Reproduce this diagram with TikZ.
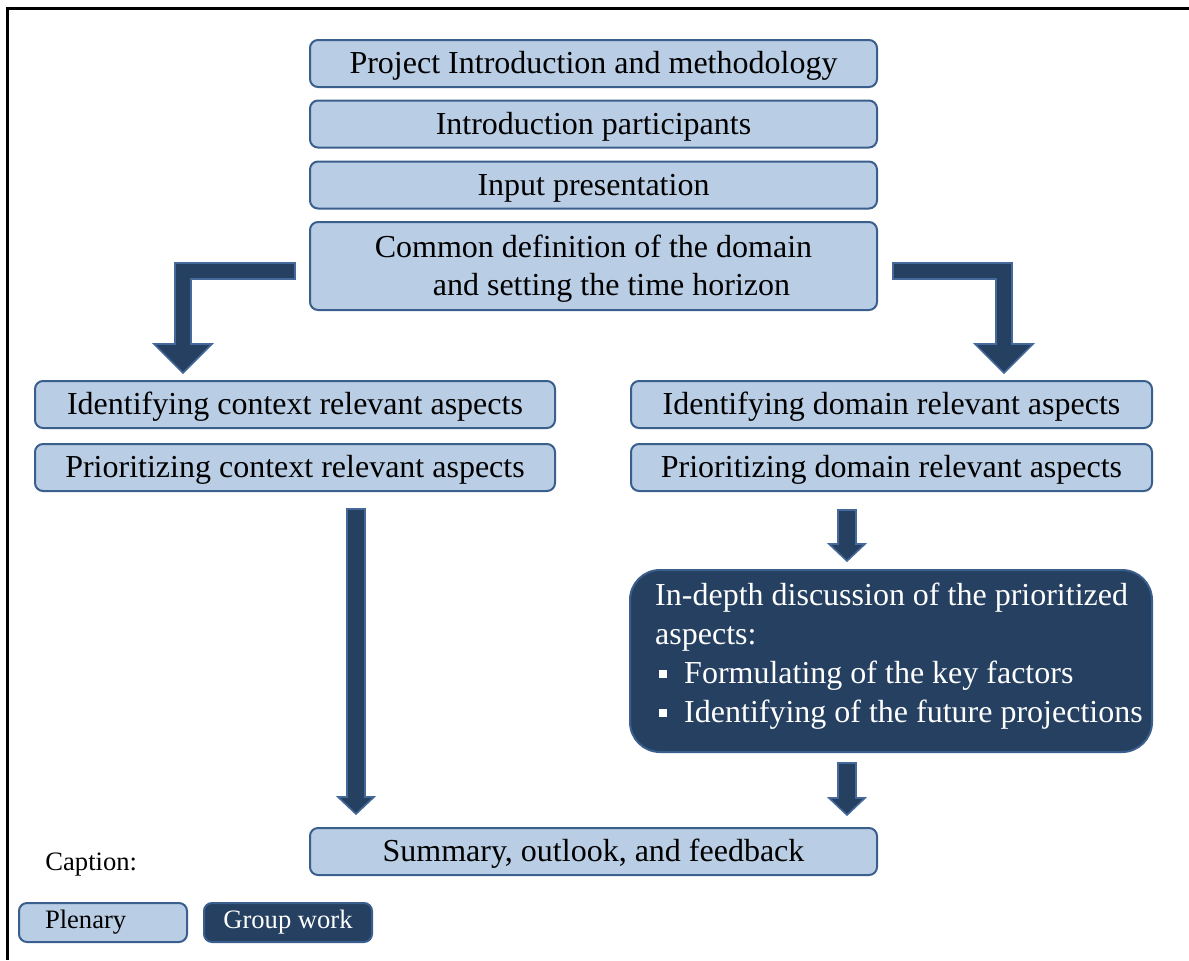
\documentclass[tikz,border=0pt]{standalone}
\usepackage{fontspec}
\setmainfont{Liberation Serif}
\usetikzlibrary{calc}
\definecolor{plenfill}{HTML}{B9CDE5}
\definecolor{plenline}{HTML}{3A5F8C}
\definecolor{grpfill}{HTML}{254061}
\definecolor{grpline}{HTML}{46699B}
\newcommand{\sqbullet}{\makebox[14.5pt][l]{\hspace{2pt}\rule[3pt]{4pt}{4pt}}}

\begin{document}
\begin{tikzpicture}[x=0.5pt,y=-0.5pt,
  every node/.style={font=\fontsize{16pt}{19pt}\selectfont},
  plenary/.style={draw=plenline, fill=plenfill, line width=1pt, rounded corners=4pt, inner sep=0pt, align=center},
  oneline/.style={plenary, text height=13.5pt, text depth=3.5pt},
  groupwork/.style={draw=plenline, fill=grpfill, text=white, line width=1pt, rounded corners=15pt, inner sep=0pt},
  legend/.style={font=\fontsize{13.3pt}{16pt}\selectfont},
  blockarrow/.style={draw=grpline, fill=grpfill, line width=0.8pt},
  downarrow/.style={blockarrow, to path={let \p1=(\tikztostart), \p2=(\tikztotarget) in
    (\x1-4.5pt,\y1) -- (\x1+4.5pt,\y1) -- (\x1+4.5pt,\y2+8.5pt) -- (\x1+9pt,\y2+8.5pt)
    -- (\x1,\y2) -- (\x1-9pt,\y2+8.5pt) -- (\x1-4.5pt,\y2+8.5pt) -- cycle}}]
 \useasboundingbox (0,0) rectangle (1189,960);
 \draw[line width=1.5pt] (7,960) -- (7,8) -- (1189,8);
 % plenary steps at the top
 \foreach \y/\n/\t in {63.5/intro/Project Introduction and methodology,
                       124/part/Introduction participants,
                       185/input/Input presentation}
   \node[oneline, minimum width=283.5pt, minimum height=23.5pt] (\n) at (593.5,\y) {\t};
 \node[plenary, minimum width=283.5pt, minimum height=44pt, text height=32.5pt, text depth=3.5pt] (common) at (593.5,266)
   {Common definition of the domain\\\hspace*{18pt}and setting the time horizon};
 % two branches
 \node[oneline, minimum width=260pt, minimum height=23.5pt] (identL) at (295,404.5) {Identifying context relevant aspects};
 \node[oneline, minimum width=260pt, minimum height=23.5pt] (prioL) at (295,467.5) {Prioritizing context relevant aspects};
 \node[oneline, minimum width=260.5pt, minimum height=23.5pt] (identR) at (891.5,404.5) {Identifying domain relevant aspects};
 \node[oneline, minimum width=260.5pt, minimum height=23.5pt] (prioR) at (891.5,467.5) {Prioritizing domain relevant aspects};
 \node[groupwork, minimum width=261pt, minimum height=91pt, align=left, text depth=8pt,
       font=\fontsize{16pt}{19.5pt}\selectfont] (discuss) at (891,661)
   {\hspace*{8pt}In-depth discussion of the prioritized\\
    \hspace*{8pt}aspects:\\
    \hspace*{8pt}\sqbullet Formulating of the key factors\\
    \hspace*{8pt}\sqbullet Identifying of the future projections};
 \node[oneline, minimum width=283.5pt, minimum height=23.5pt] (summary) at (593.5,851.5) {Summary, outlook, and feedback};
 % legend
 \node[legend, anchor=west, inner sep=0pt] (caption) at (45,865) {Caption:};
 \node[plenary, legend, minimum width=84pt, minimum height=19.5pt, text width=58pt, align=left, inner xsep=13pt] (legplen) at (103,922.5) {Plenary};
 \node[groupwork, legend, rounded corners=4pt, minimum width=84pt, minimum height=19.5pt] (leggrp) at (288,922.5) {Group work};
 % arrows
 \draw[blockarrow] (common.west) ++(-14,-3) -- ++(-120,0) -- ++(0,81) -- ++(-21,0) -- ++(29,29)
   -- ++(29,-29) -- ++(-21,0) -- ++(0,-65) -- ++(104,0) -- cycle;
 \draw[blockarrow] (common.east) ++(15,-3) -- ++(119,0) -- ++(0,81) -- ++(21,0) -- ++(-29,29)
   -- ++(-29,-29) -- ++(21,0) -- ++(0,-65) -- ++(-103,0) -- cycle;
 \draw[downarrow] ([shift={(61,17)}]prioL.south) to ([shift={(-237.5,-13)}]summary.north);
 \draw[downarrow] ([shift={(-44.5,18)}]prioR.south) to ([shift={(-44,-8)}]discuss.north);
 \draw[downarrow] ([shift={(-44,10)}]discuss.south) to ([shift={(253.5,-12)}]summary.north);
\end{tikzpicture}
\end{document}
